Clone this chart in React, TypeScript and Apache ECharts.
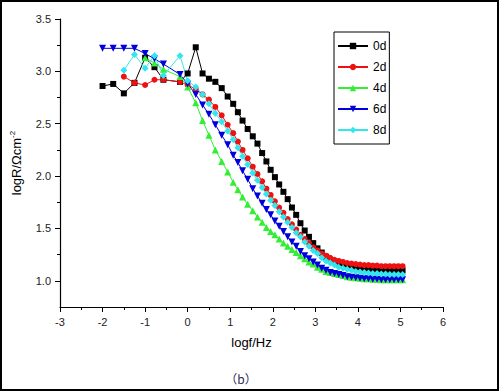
import React, { useEffect, useRef } from "react";
import * as echarts from "echarts";

const logf = [
  -2, -1.75, -1.5, -1.25, -1.0, -0.78, -0.57, -0.18,
  0.0, 0.19, 0.35, 0.5, 0.65, 0.8, 0.94, 1.07,
  1.18, 1.29, 1.41, 1.53, 1.64, 1.75, 1.85,
  1.95, 2.05, 2.15, 2.25, 2.35, 2.45, 2.55, 2.65, 2.75, 2.85, 2.95,
  3.05, 3.15, 3.25, 3.35, 3.45, 3.55, 3.65, 3.75, 3.85, 3.95,
  4.05, 4.15, 4.25, 4.35, 4.45, 4.55, 4.65, 4.75, 4.85, 4.95, 5.05,
];

const d0 = [
  2.86, 2.88, 2.79, 2.89, 3.13, 3.04, 2.92, 2.90,
  2.98, 3.23, 2.98, 2.93, 2.90, 2.84, 2.76, 2.69,
  2.61, 2.53, 2.45, 2.38, 2.31, 2.22, 2.14,
  2.06, 1.99, 1.92, 1.85, 1.78, 1.70, 1.63, 1.55, 1.48, 1.42, 1.36,
  1.31, 1.27, 1.23, 1.20, 1.18, 1.16, 1.15, 1.14, 1.13, 1.125,
  1.12, 1.115, 1.11, 1.105, 1.10, 1.10, 1.10, 1.10, 1.10, 1.10, 1.10,
];

const d2 = [
  null, null, 2.95, 2.89, 2.87, 2.92, 2.92, 2.90,
  2.87, 2.83, 2.78, 2.73, 2.66, 2.58, 2.49, 2.41,
  2.33, 2.25, 2.17, 2.09, 2.02, 1.95, 1.88,
  1.82, 1.76, 1.70, 1.65, 1.59, 1.54, 1.49, 1.44, 1.40, 1.36, 1.32,
  1.29, 1.26, 1.24, 1.22, 1.20, 1.19, 1.18, 1.17, 1.165, 1.16,
  1.155, 1.15, 1.15, 1.145, 1.145, 1.14, 1.14, 1.14, 1.14, 1.14, 1.14,
];

const d4 = [
  null, null, null, null, 3.13, 3.08, 3.02, 2.95,
  2.85, 2.70, 2.53, 2.39, 2.25, 2.14, 2.04, 1.94,
  1.87, 1.80, 1.73, 1.67, 1.61, 1.56, 1.51,
  1.47, 1.44, 1.40, 1.36, 1.33, 1.30, 1.27, 1.24, 1.21, 1.18, 1.16,
  1.13, 1.11, 1.09, 1.08, 1.07, 1.06, 1.05, 1.04, 1.035, 1.03,
  1.025, 1.02, 1.02, 1.015, 1.015, 1.01, 1.01, 1.01, 1.01, 1.01, 1.01,
];

const d6 = [
  3.22, 3.22, 3.22, 3.22, 3.17, 3.12, 3.07, 2.97,
  2.88, 2.78, 2.68, 2.59, 2.49, 2.39, 2.30, 2.20,
  2.13, 2.05, 1.97, 1.88, 1.81, 1.74, 1.68,
  1.63, 1.57, 1.52, 1.47, 1.42, 1.37, 1.33, 1.28, 1.24, 1.21, 1.18,
  1.15, 1.12, 1.10, 1.08, 1.07, 1.06, 1.05, 1.04, 1.035, 1.03,
  1.025, 1.02, 1.02, 1.015, 1.015, 1.01, 1.01, 1.01, 1.01, 1.01, 1.01,
];

const d8 = [
  null, null, 3.01, 3.16, 3.03, 3.15, 2.96, 3.15,
  2.91, 2.85, 2.78, 2.69, 2.60, 2.52, 2.43, 2.35,
  2.27, 2.19, 2.11, 2.03, 1.96, 1.89, 1.83,
  1.77, 1.72, 1.66, 1.61, 1.56, 1.51, 1.46, 1.42, 1.37, 1.33, 1.29,
  1.26, 1.22, 1.19, 1.17, 1.15, 1.13, 1.12, 1.11, 1.10, 1.09,
  1.085, 1.08, 1.075, 1.07, 1.07, 1.065, 1.065, 1.06, 1.06, 1.06, 1.06,
];

const seriesNames = ["0d", "2d", "4d", "6d", "8d"];
const seriesColors = ["#000000", "#ee1111", "#33ee33", "#0000dd", "#33e6ee"];
const seriesSymbols = ["rect", "circle", "triangle", "path://M0,0 L10,0 L5,9 Z", "diamond"];
const seriesSizes = [6, 6, 7, 7, 7];
const seriesData = [d0, d2, d4, d6, d8];

const xTicks = [-3, -2, -1, 0, 1, 2, 3, 4, 5, 6];
const yMajor = [1.0, 1.5, 2.0, 2.5, 3.0, 3.5];
const yMinor = [1.25, 1.75, 2.25, 2.75, 3.25];

const FONT = "Liberation Sans, Arial, sans-serif";

export default function App() {
  const ref = useRef<HTMLDivElement>(null);
  useEffect(() => {
    if (!ref.current) return;
    const chart = echarts.init(ref.current, null, { renderer: "svg" });
    const series = seriesData.map((arr, i) => ({
      name: seriesNames[i],
      type: "line",
      data: logf.map((x, j) => [x, arr[j]]),
      symbol: seriesSymbols[i],
      symbolSize: seriesSizes[i],
      showAllSymbol: true,
      connectNulls: false,
      itemStyle: { color: seriesColors[i] },
      lineStyle: { color: seriesColors[i], width: 1 },
      yAxisIndex: 0,
    }));
    chart.setOption({
      animation: false,
      backgroundColor: "#ffffff",
      grid: { left: 54, right: 57, top: 19, bottom: 85, containLabel: false },
      legend: {
        orient: "vertical",
        left: 334,
        top: 32,
        itemWidth: 30,
        itemHeight: 8,
        itemGap: 9,
        padding: [8, 3, 8, 3],
        borderColor: "#000",
        borderWidth: 1,
        textStyle: { fontSize: 12, color: "#000", fontFamily: FONT },
        data: seriesNames,
      },
      xAxis: {
        type: "value",
        min: xTicks[0],
        max: xTicks[xTicks.length - 1],
        interval: 1,
        name: "logf/Hz",
        nameLocation: "middle",
        nameGap: 29,
        nameTextStyle: { fontSize: 13, color: "#000", fontFamily: FONT },
        axisLine: { show: true, onZero: false, lineStyle: { color: "#000", width: 1.2 } },
        axisTick: { show: true, length: 5, lineStyle: { color: "#000" } },
        minorTick: { show: true, splitNumber: 2, length: 3, lineStyle: { color: "#000" } },
        axisLabel: { fontSize: 11, color: "#222", fontFamily: FONT, margin: 9 },
        splitLine: { show: false },
        minorSplitLine: { show: false },
      },
      yAxis: [
        {
          type: "value",
          min: 0.75,
          max: 3.5,
          interval: 0.25,
          name: "{a|logR/Ωcm}{s|-2}",
          nameLocation: "middle",
          nameGap: 36,
          nameRotate: 90,
          nameTextStyle: {
            fontSize: 13,
            color: "#000",
            fontFamily: FONT,
            rich: {
              a: { fontSize: 13, color: "#000", fontFamily: FONT },
              s: { fontSize: 8, color: "#000", fontFamily: FONT, padding: [0, 0, 8, 0] },
            },
          },
          axisLine: { show: true, onZero: false, lineStyle: { color: "#000", width: 1.2 } },
          axisTick: { show: true, length: 5, customValues: yMajor, lineStyle: { color: "#000" } },
          axisLabel: {
            fontSize: 11,
            color: "#222",
            fontFamily: FONT,
            margin: 9,
            customValues: yMajor,
            formatter: (v: number) => v.toFixed(1),
          },
          splitLine: { show: false },
        },
        {
          type: "value",
          min: 0.75,
          max: 3.5,
          interval: 0.25,
          position: "left",
          offset: 0,
          axisLine: { show: false, onZero: false },
          axisTick: { show: true, length: 3, customValues: yMinor, lineStyle: { color: "#000" } },
          axisLabel: { show: false },
          splitLine: { show: false },
        },
      ],
      series,
      graphic: [
        {
          type: "rect",
          shape: { x: 1, y: 1, width: 497, height: 389 },
          style: { fill: "none", stroke: "#000", lineWidth: 2 },
          z: 100,
        },
        {
          type: "text",
          x: 241,
          y: 378,
          style: {
            text: "（b）",
            fontSize: 12,
            fontFamily: "Noto Sans CJK SC",
            fill: "#2a2a55",
            align: "center",
            verticalAlign: "middle",
          },
        },
      ],
    });
    return () => chart.dispose();
  }, []);
  return (
    <div
      ref={ref}
      style={{ position: "fixed", left: 0, top: 0, width: 500, height: 392 }}
    />
  );
}
